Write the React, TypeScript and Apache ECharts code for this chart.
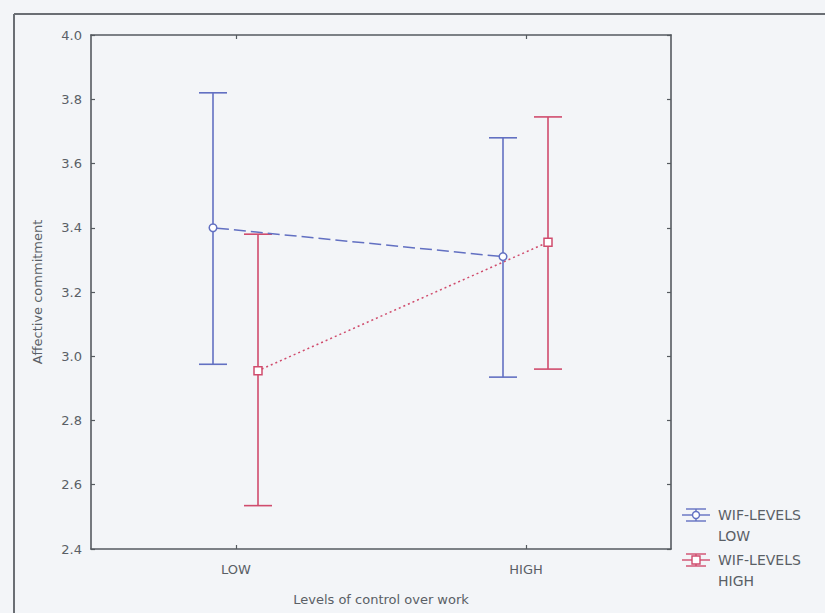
import React, { useEffect, useRef } from "react";
import * as echarts from "echarts";

const categories = ["LOW", "HIGH"];
const wifLowMean = [3.4, 3.31];
const wifLowUpper = [3.82, 3.68];
const wifLowLower = [2.975, 2.935];
const wifHighMean = [2.955, 3.355];
const wifHighUpper = [3.38, 3.745];
const wifHighLower = [2.535, 2.96];
const seriesNames = ["WIF-LEVELS\nLOW", "WIF-LEVELS\nHIGH"];
const xAxisTitle = "Levels of control over work";
const yAxisTitle = "Affective commitment";

const BLUE = "#6270c2";
const RED = "#d04c6d";
const AXIS = "#555a60";
const TEXT = "#5a5f66";
const FONT = "DejaVu Sans";

function makeRender(
  mean: number[],
  lower: number[],
  upper: number[],
  color: string,
  offset: number,
  dash: number[],
  marker: "circle" | "square"
) {
  return (params: any, api: any) => {
    const i = params.dataIndex;
    const p = api.coord([i, mean[i]]);
    const cx = p[0] + offset;
    const cy = p[1];
    const yTop = api.coord([i, upper[i]])[1];
    const yBot = api.coord([i, lower[i]])[1];
    const cap = 14;
    const r = 4;
    const children: any[] = [];
    if (i > 0) {
      const q = api.coord([i - 1, mean[i - 1]]);
      const px = q[0] + offset;
      const py = q[1];
      const dx = cx - px;
      const dy = cy - py;
      const len = Math.hypot(dx, dy) || 1;
      children.push({
        type: "line",
        shape: { x1: px + (dx / len) * r, y1: py + (dy / len) * r, x2: cx, y2: cy },
        style: { stroke: color, lineWidth: 1.5, lineDash: dash },
      });
    }
    const ls = { stroke: color, lineWidth: 1.6 };
    children.push({ type: "line", shape: { x1: cx, y1: yTop, x2: cx, y2: yBot }, style: ls });
    children.push({ type: "line", shape: { x1: cx - cap, y1: yTop, x2: cx + cap, y2: yTop }, style: ls });
    children.push({ type: "line", shape: { x1: cx - cap, y1: yBot, x2: cx + cap, y2: yBot }, style: ls });
    if (marker === "circle") {
      children.push({
        type: "circle",
        shape: { cx, cy, r: 3.8 },
        style: { fill: "#ffffff", stroke: color, lineWidth: 1.5 },
      });
    } else {
      children.push({
        type: "rect",
        shape: { x: cx - 4, y: cy - 4, width: 8, height: 8 },
        style: { fill: "#ffffff", stroke: color, lineWidth: 1.5 },
      });
    }
    return { type: "group", children };
  };
}

function legendItem(cy: number, color: string, marker: "circle" | "square", label: string) {
  const cx = 696;
  const ls = { stroke: color, lineWidth: 1.4 };
  const m =
    marker === "circle"
      ? { type: "circle", shape: { cx, cy, r: 3.5 }, style: { fill: "#ffffff", stroke: color, lineWidth: 1.4 } }
      : { type: "rect", shape: { x: cx - 4, y: cy - 4, width: 8, height: 8 }, style: { fill: "#ffffff", stroke: color, lineWidth: 1.4 } };
  return [
    { type: "line", shape: { x1: 682, y1: cy, x2: 710, y2: cy }, style: ls },
    { type: "line", shape: { x1: cx, y1: cy - 6, x2: cx, y2: cy + 6 }, style: ls },
    { type: "line", shape: { x1: 686, y1: cy - 6, x2: 706, y2: cy - 6 }, style: ls },
    { type: "line", shape: { x1: 686, y1: cy + 6, x2: 706, y2: cy + 6 }, style: ls },
    m,
    {
      type: "text",
      x: 718,
      y: cy - 10.5,
      style: { text: label, fill: TEXT, font: `14px "${FONT}"`, lineHeight: 21, verticalAlign: "top" },
    },
  ];
}

export default function App() {
  const ref = useRef<HTMLDivElement>(null);
  useEffect(() => {
    if (!ref.current) return;
    const chart = echarts.init(ref.current, undefined, { renderer: "svg" });
    const tickStyle = { color: AXIS, width: 1.2 };
    const lineStyle = { color: AXIS, width: 1.6 };
    chart.setOption({
      animation: false,
      backgroundColor: "#f3f5f8",
      grid: { left: 91, right: 154, top: 35, bottom: 64 },
      xAxis: [
        {
          type: "category",
          data: categories,
          boundaryGap: true,
          axisLine: { show: true, lineStyle },
          axisTick: { show: true, inside: true, alignWithLabel: true, length: 4, lineStyle: tickStyle },
          axisLabel: { color: TEXT, fontFamily: FONT, fontSize: 13, margin: 14 },
          name: xAxisTitle,
          nameLocation: "middle",
          nameGap: 44,
          nameTextStyle: { color: TEXT, fontFamily: FONT, fontSize: 13 },
          splitLine: { show: false },
        },
        {
          type: "category",
          position: "top",
          data: categories,
          boundaryGap: true,
          axisLine: { show: true, lineStyle },
          axisTick: { show: true, inside: true, alignWithLabel: true, length: 4, lineStyle: tickStyle },
          axisLabel: { show: false },
          splitLine: { show: false },
        },
      ],
      yAxis: [
        {
          type: "value",
          min: 2.4,
          max: 4.0,
          interval: 0.2,
          axisLine: { show: true, lineStyle },
          axisTick: { show: true, inside: true, length: 4, lineStyle: tickStyle },
          axisLabel: {
            color: TEXT,
            fontFamily: FONT,
            fontSize: 13,
            margin: 9,
            formatter: (v: number) => v.toFixed(1),
          },
          splitLine: { show: false },
          name: yAxisTitle,
          nameLocation: "middle",
          nameGap: 47,
          nameTextStyle: { color: TEXT, fontFamily: FONT, fontSize: 13 },
        },
        {
          type: "value",
          position: "right",
          min: 2.4,
          max: 4.0,
          interval: 0.2,
          axisLine: { show: true, lineStyle },
          axisTick: { show: true, inside: true, length: 4, lineStyle: tickStyle },
          axisLabel: { show: false },
          splitLine: { show: false },
        },
      ],
      series: [
        {
          name: seriesNames[0],
          type: "custom",
          xAxisIndex: 0,
          yAxisIndex: 0,
          renderItem: makeRender(wifLowMean, wifLowLower, wifLowUpper, BLUE, -23, [12, 5], "circle"),
          data: categories.map((_, i) => [i, wifLowMean[i], wifLowLower[i], wifLowUpper[i]]),
          encode: { x: 0, y: [1, 2, 3] },
          z: 3,
        },
        {
          name: seriesNames[1],
          type: "custom",
          xAxisIndex: 0,
          yAxisIndex: 0,
          renderItem: makeRender(wifHighMean, wifHighLower, wifHighUpper, RED, 22, [2, 3], "square"),
          data: categories.map((_, i) => [i, wifHighMean[i], wifHighLower[i], wifHighUpper[i]]),
          encode: { x: 0, y: [1, 2, 3] },
          z: 2,
        },
      ],
      graphic: [
        { type: "line", shape: { x1: 14, y1: 14, x2: 825, y2: 14 }, style: { stroke: "#6a6e74", lineWidth: 2 } },
        { type: "line", shape: { x1: 14, y1: 14, x2: 14, y2: 613 }, style: { stroke: "#6a6e74", lineWidth: 2 } },
        ...legendItem(515, BLUE, "circle", seriesNames[0]),
        ...legendItem(560, RED, "square", seriesNames[1]),
      ],
    });
    return () => chart.dispose();
  }, []);
  return (
    <div
      ref={ref}
      style={{ position: "fixed", left: 0, top: 0, width: 825, height: 613 }}
    />
  );
}
